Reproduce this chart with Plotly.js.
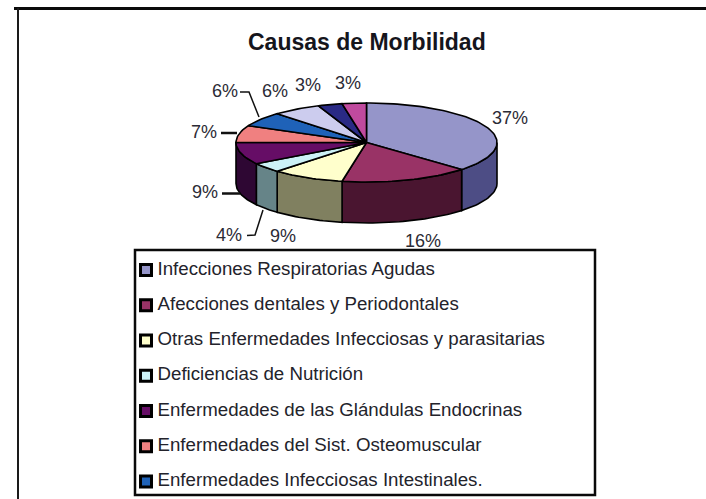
<!DOCTYPE html>
<html>
<head>
<meta charset="utf-8">
<script src="https://cdn.plot.ly/plotly-3.0.1.min.js"></script>
<style>html,body{margin:0;padding:0;background:#fff}#c{width:706px;height:499px}</style>
</head>
<body>
<div id="c"></div>
<script>
const titleText = "Causas de Morbilidad";
const values = [37, 16, 9, 4, 9, 7, 6, 6, 3, 3];
const legendNames = [
  "Infecciones Respiratorias Agudas",
  "Afecciones dentales y Periodontales",
  "Otras Enfermedades Infecciosas y parasitarias",
  "Deficiencias de Nutrición",
  "Enfermedades de las Glándulas Endocrinas",
  "Enfermedades del Sist. Osteomuscular",
  "Enfermedades Infecciosas Intestinales."
];
const topColors = ["#9595c9", "#993366", "#ffffcc", "#ccf2f7", "#660d66", "#f08080", "#1f62b8", "#ccccee", "#2a2a85", "#c04a9e"];
const sideColors = ["#4d4d85", "#4a1530", "#808060", "#668488", "#2e0733", "#784040", "#103060", "#666677", "#151540", "#602550"];
const labelX = [510, 423, 283, 229, 205, 204, 225, 275, 308, 348];
const labelY = [119, 242, 237, 236, 193, 133, 92, 92, 86, 84];
const leaders = [
  {x: [221, 237], y: [133, 133], w: 2.5},
  {x: [222, 240], y: [193.5, 193.5], w: 2.5},
  {x: [247, 255, 263], y: [235.5, 235, 210], w: 1.5},
  {x: [240, 249, 259], y: [92, 92, 117], w: 1.5}
];

const cx = 366.5, cy = 142.5, rx = 130.5, ry = 39.5, depth = 41;
const FONT = "Liberation Sans, Arial, sans-serif";
const total = values.reduce((a, b) => a + b, 0);
const px = t => cx + rx * Math.sin(t);
const py = t => cy - ry * Math.cos(t);
function arc(a, b) {
  const n = Math.max(2, Math.ceil((b - a) / 0.03));
  const out = [];
  for (let i = 0; i <= n; i++) out.push(a + (b - a) * i / n);
  return out;
}

const sides = [], tops = [];
let run = 0;
values.forEach((v, i) => {
  const a = run / total * 2 * Math.PI;
  run += v;
  const b = run / total * 2 * Math.PI;
  const ts = arc(a, b);
  tops.push({
    x: [cx, ...ts.map(px), cx], y: [cy, ...ts.map(py), cy],
    type: "scatter", mode: "lines", fill: "toself", fillcolor: topColors[i],
    line: {color: "#000", width: 1.6}, hoverinfo: "skip", showlegend: false
  });
  const fa = Math.max(a, Math.PI / 2), fb = Math.min(b, 3 * Math.PI / 2);
  if (fb > fa) {
    const fs = arc(fa, fb), rev = [...fs].reverse();
    sides.push({
      x: [...fs.map(px), ...rev.map(px), px(fa)],
      y: [...fs.map(py), ...rev.map(t => py(t) + depth), py(fa)],
      type: "scatter", mode: "lines", fill: "toself", fillcolor: sideColors[i],
      line: {color: "#000", width: 1.6}, hoverinfo: "skip", showlegend: false
    });
  }
});

const leaderTraces = leaders.map(l => ({
  x: l.x, y: l.y, type: "scatter", mode: "lines",
  line: {color: "#111", width: l.w}, hoverinfo: "skip", showlegend: false
}));

const pctLabels = {
  x: labelX, y: labelY, text: values.map(v => v + "%"),
  type: "scatter", mode: "text", textposition: "middle center", cliponaxis: true,
  textfont: {family: FONT, size: 18, color: "#2b2b35"}, hoverinfo: "skip", showlegend: false
};

const legendMarkers = {
  x: legendNames.map(() => 146), y: legendNames,
  xaxis: "x2", yaxis: "y2", type: "scatter", mode: "markers",
  marker: {symbol: "square", size: 11, color: topColors.slice(0, legendNames.length), line: {color: "#000", width: 3}},
  hoverinfo: "skip", showlegend: false
};
const legendText = {
  x: legendNames.map(() => 157.5), y: legendNames, text: legendNames,
  xaxis: "x2", yaxis: "y2", type: "scatter", mode: "text", textposition: "middle right",
  textfont: {family: FONT, size: 18.7, color: "#23232b"}, hoverinfo: "skip", showlegend: false
};

const layout = {
  width: 706, height: 499, margin: {l: 0, r: 0, t: 0, b: 0},
  paper_bgcolor: "#fff", plot_bgcolor: "rgba(0,0,0,0)", showlegend: false,
  xaxis: {range: [0, 706], domain: [0, 1], visible: false, fixedrange: true},
  yaxis: {range: [249, 0], domain: [250 / 499, 1], visible: false, fixedrange: true},
  xaxis2: {range: [0, 706], domain: [0, 1], visible: false, fixedrange: true, anchor: "y2"},
  yaxis2: {type: "category", categoryorder: "array", categoryarray: legendNames,
           range: [6.5, -0.57], domain: [0, 249 / 499], visible: false, fixedrange: true, anchor: "x2"},
  annotations: [{
    text: "<b>" + titleText + "</b>", xref: "paper", yref: "paper",
    x: 367 / 706, y: 1 - 42 / 499, xanchor: "center", yanchor: "middle", showarrow: false,
    font: {family: FONT, size: 23, color: "#15151c"}
  }],
  shapes: [
    {type: "line", xref: "paper", yref: "paper", x0: 14 / 706, x1: 1, y0: 1 - 8.5 / 499, y1: 1 - 8.5 / 499, line: {color: "#0a0a0a", width: 3}},
    {type: "line", xref: "paper", yref: "paper", x0: 18 / 706, x1: 18 / 706, y0: 1 - 8 / 499, y1: 0, line: {color: "#1a1a1a", width: 2}},
    {type: "rect", xref: "paper", yref: "paper", x0: 135 / 706, x1: 595 / 706, y0: 1 - 250 / 499, y1: 1 - 495 / 499, line: {color: "#0a0a0a", width: 2.5}}
  ]
};

Plotly.newPlot("c", [...sides, ...tops, ...leaderTraces, pctLabels, legendMarkers, legendText], layout, {displayModeBar: false, staticPlot: true});
</script>
</body>
</html>
